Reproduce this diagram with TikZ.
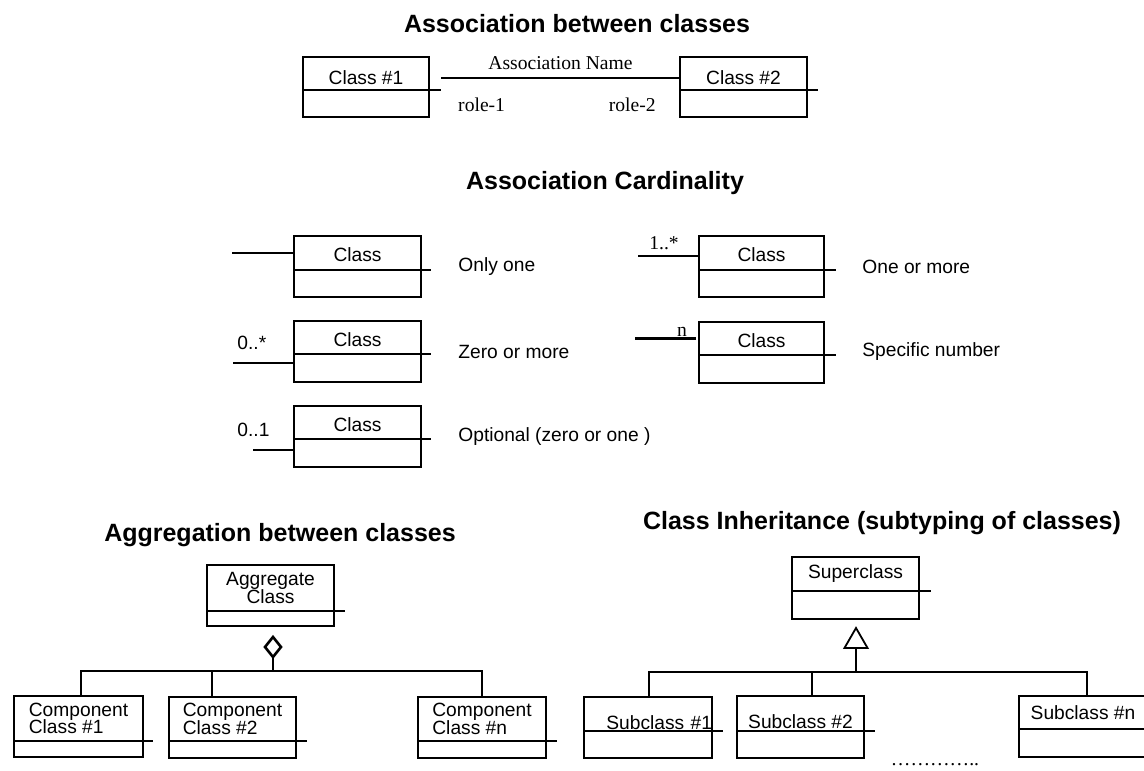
\documentclass[tikz,border=0pt]{standalone}
\usepackage{fontspec}
\setmainfont{Liberation Serif}
\setsansfont{Liberation Sans}
\usetikzlibrary{positioning,shapes.geometric}
\tikzset{
  heading/.style={font=\sffamily\bfseries\fontsize{12.5}{15}\selectfont},
  compartment/.style={draw, line width=1.3pt, inner sep=0pt, outer sep=0pt, anchor=north west, font=\sffamily\fontsize{9.6}{11.5}\selectfont},
  class top/.style={compartment, minimum width=63.5pt, minimum height=17pt},
  class bottom/.style={compartment, minimum width=63.5pt, minimum height=13.5pt},
  two lines/.style={font=\sffamily\fontsize{9.6}{8}\selectfont},
  sunk text/.style={text height=#1, text depth=0pt},
  divider/.style={line width=1.3pt},
  conn/.style={line width=1.3pt},
  thin conn/.style={line width=0.85pt},
  desc/.style={font=\sffamily\fontsize{9.6}{11.5}\selectfont, anchor=west, inner sep=0pt},
  serif label/.style={font=\rmfamily\fontsize{9.8}{12}\selectfont},
  agg diamond/.style={diamond, draw, line width=1.3pt, inner sep=0pt, outer sep=0pt, minimum width=8pt, minimum height=10pt},
  inh triangle/.style={regular polygon, regular polygon sides=3, draw, line width=0.9pt, inner sep=0pt, outer sep=0pt, minimum size=13.3pt}
}

\begin{document}
\begin{tikzpicture}[x=0.5pt,y=-0.5pt]
\useasboundingbox (0,0) rectangle (1144,770);
% association between classes
\node[heading] (h1) at (577,24) {Association between classes};
\node[class top, minimum width=63pt, minimum height=16.5pt, sunk text=1.08em] (c1) at (303,57) {Class \#1};
\node[class bottom, minimum width=63pt, below=0pt of c1] (c1b) {};
\node[class top, minimum height=16.5pt, sunk text=1.08em] (c2) at (680,57) {Class \#2};
\node[class bottom, below=0pt of c2] (c2b) {};
\draw[divider] (c1b.north east) -- ++(12,0);
\draw[divider] (c2b.north east) -- ++(11,0);
\draw[conn] ([shift={(12,4.5)}]c1.east) -- ([shift={(0,4.5)}]c2.west)
  node[serif label, midway, above] (aname) {Association Name}
  node[serif label, pos=0.17, below=6pt] (role1) {role-1}
  node[serif label, pos=0.8, below=6pt] (role2) {role-2};

% association cardinality
\node[heading] (h2) at (605,183) {Association Cardinality};
\node[class top, sunk text=0.85em] (k1) at (294,236) {Class};
\node[class bottom, below=0pt of k1] (k1b) {};
\node[class top, minimum height=16.5pt, sunk text=0.85em] (k2) at (294,321) {Class};
\node[class bottom, minimum height=14pt, below=0pt of k2] (k2b) {};
\node[class top, minimum height=16.5pt, sunk text=0.85em] (k3) at (294,406) {Class};
\node[class bottom, minimum height=14pt, below=0pt of k3] (k3b) {};
\node[class top, minimum width=62.5pt, sunk text=0.85em] (k4) at (699,236) {Class};
\node[class bottom, minimum width=62.5pt, below=0pt of k4] (k4b) {};
\node[class top, minimum width=62.5pt, minimum height=16.5pt, sunk text=0.85em] (k5) at (699,322) {Class};
\node[class bottom, minimum width=62.5pt, minimum height=14pt, below=0pt of k5] (k5b) {};
\draw[divider] (k1b.north east) -- ++(10,0);
\draw[divider] (k2b.north east) -- ++(10,0);
\draw[divider] (k3b.north east) -- ++(10,0);
\draw[divider] (k4b.north east) -- ++(12,0);
\draw[divider] (k5b.north east) -- ++(12,0);
\draw[conn] (k1.west) -- ++(-62,0);
\draw[conn] ([shift={(0,-5)}]k2b.west) -- ++(-61,0);
\draw[conn] ([shift={(0,-3)}]k3b.west) -- ++(-41,0);
\draw[conn] ([shift={(0,3)}]k4.west) -- ++(-61,0);
\draw[conn] ([shift={(-3,0)}]k5.west) -- ++(-61,0);
\node[desc] (m2) at (237,343) {0..*};
\node[desc] (m3) at (237,430) {0..1};
\node[serif label] (m4) at (664,243) {1..*};
\node[serif label] (m5) at (682,332) {n};
\node[desc] (d1) at (458,267) {Only one};
\node[desc] (d2) at (458,352) {Zero or more};
\node[desc] (d3) at (458,437) {Optional (zero or one )};
\node[desc] (d4) at (862,267) {One or more};
\node[desc] (d5) at (862,352) {Specific number};

% aggregation between classes
\node[heading] (h3) at (280,535) {Aggregation between classes};
\node[class top, minimum height=23pt, two lines, align=center] (ag) at (207,565) {Aggregate\\[-1.2pt]Class};
\node[class bottom, minimum height=7.5pt, below=0pt of ag] (agb) {};
\node[class top, minimum width=64.5pt, minimum height=22.5pt, two lines, align=left] (cc1) at (14,696) {Component\\[-1.2pt]Class \#1};
\node[class bottom, minimum width=64.5pt, minimum height=8pt, below=0pt of cc1] (cc1b) {};
\node[class top, minimum height=22pt, two lines, align=left] (cc2) at (169,697) {Component\\[-1.2pt]Class \#2};
\node[class bottom, minimum height=8.5pt, below=0pt of cc2] (cc2b) {};
\node[class top, minimum width=64pt, minimum height=22pt, two lines, align=left] (ccn) at (418,697) {Component\\[-1.2pt]Class \#n};
\node[class bottom, minimum width=64pt, minimum height=8.5pt, below=0pt of ccn] (ccnb) {};
\draw[divider] (agb.north east) -- ++(11,0);
\draw[divider] (cc1b.north east) -- ++(10,0);
\draw[divider] (cc2b.north east) -- ++(11,0);
\draw[divider] (ccnb.north east) -- ++(11,0);
\node[agg diamond, anchor=north] (dia) at ([shift={(2.5,11)}]agb.south) {};
\draw[conn] (dia.south) -- ++(0,14) coordinate (aggjoin);
\draw[conn] ([xshift=1.25pt]cc1.north) |- (aggjoin) -| (ccn.north);
\coordinate (cc2up) at ([xshift=-10.25pt]cc2.north);
\draw[conn] (cc2up) -- (cc2up |- aggjoin);

% class inheritance
\node[heading] (h4) at (882,523) {Class Inheritance (subtyping of classes)};
\node[class top] (sup) at (792,557) {Superclass};
\node[class bottom, minimum height=14pt, below=0pt of sup] (supb) {};
\node[class top, minimum width=64pt, text width=64pt, align=right, sunk text=1.56em] (sub1) at (584,697) {Subclass \#1};
\node[class bottom, minimum width=64pt, below=0pt of sub1] (sub1b) {};
\node[class top, minimum height=17.5pt, sunk text=1.5em] (sub2) at (737,696) {Subclass \#2};
\node[class bottom, below=0pt of sub2] (sub2b) {};
\node[class top, minimum width=64pt, minimum height=16.5pt] (subn) at (1019,696) {Subclass \#n};
\node[class bottom, minimum width=64pt, minimum height=14pt, below=0pt of subn] (subnb) {};
\draw[divider] (supb.north east) -- ++(12,0);
\draw[divider] (sub1b.north east) -- ++(11,0);
\draw[divider] (sub2b.north east) -- ++(11,0);
\draw[divider] (subnb.north east) -- ++(11,0);
\node[inh triangle, anchor=corner 1] (tri) at ([shift={(0.5,9)}]supb.south) {};
\draw[thin conn] (tri.side 2) -- ++(0,24) coordinate (inhjoin);
\draw[thin conn] ([xshift=0.5pt]sub1.north) |- (inhjoin) -| ([xshift=2pt]subn.north);
\coordinate (sub2up) at ([xshift=5.75pt]sub2.north);
\draw[thin conn] (sub2up) -- (sub2up |- inhjoin);
\node[serif label] (dots) at (935,765) {…………..};
\end{tikzpicture}
\end{document}
